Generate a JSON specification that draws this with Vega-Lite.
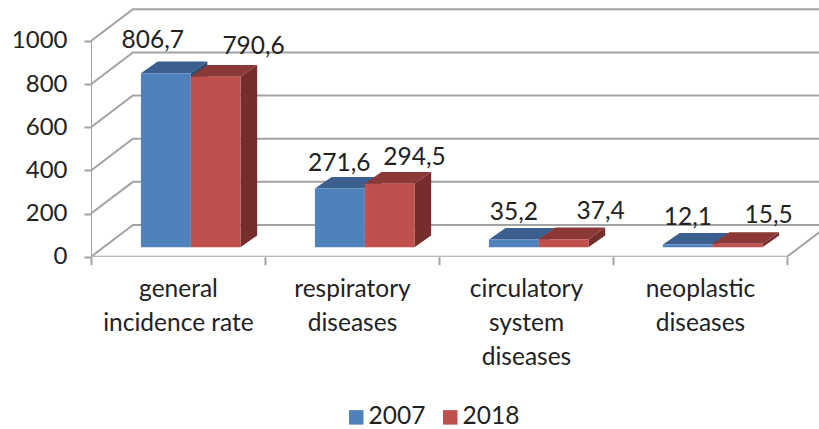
{
"$schema":"https://vega.github.io/schema/vega-lite/v6.json",
"width":728,"height":256.7,
"autosize":{"type":"none"},
"padding":{"left":91,"top":0,"right":0,"bottom":172.3},
"background":"white",
"view":{"stroke":null},
"config":{"text":{"font":"Lato"},"axis":{"labelFont":"Lato"},"legend":{"labelFont":"Lato"}},
"datasets":{
"frame":[
{"s":"g0","x":0,"y":0},{"s":"g0","x":0.241,"y":147},{"s":"g0","x":4.3,"y":147},
{"s":"g200","x":0,"y":200},{"s":"g200","x":0.241,"y":347},{"s":"g200","x":4.3,"y":347},
{"s":"g400","x":0,"y":400},{"s":"g400","x":0.241,"y":547},{"s":"g400","x":4.3,"y":547},
{"s":"g600","x":0,"y":600},{"s":"g600","x":0.241,"y":747},{"s":"g600","x":4.3,"y":747},
{"s":"g800","x":0,"y":800},{"s":"g800","x":0.241,"y":947},{"s":"g800","x":4.3,"y":947},
{"s":"g1000","x":0,"y":1000},{"s":"g1000","x":0.241,"y":1147},{"s":"g1000","x":4.3,"y":1147},
{"s":"left","x":0,"y":0},{"s":"left","x":0,"y":1000},
{"s":"floor","x":0,"y":0},{"s":"floor","x":4,"y":0},
{"s":"right","x":4,"y":0},{"s":"right","x":4.241,"y":147}
]},
"data":{"values":[
{"category":"general incidence rate","year":"2007","value":806.7,"label":"806,7"},
{"category":"general incidence rate","year":"2018","value":790.6,"label":"790,6"},
{"category":"respiratory diseases","year":"2007","value":271.6,"label":"271,6"},
{"category":"respiratory diseases","year":"2018","value":294.5,"label":"294,5"},
{"category":"circulatory system diseases","year":"2007","value":35.2,"label":"35,2"},
{"category":"circulatory system diseases","year":"2018","value":37.4,"label":"37,4"},
{"category":"neoplastic diseases","year":"2007","value":12.1,"label":"12,1"},
{"category":"neoplastic diseases","year":"2018","value":15.5,"label":"15,5"}
]},
"transform":[
{"calculate":"indexof(['general incidence rate','respiratory diseases','circulatory system diseases','neoplastic diseases'],datum.category)","as":"idx"},
{"calculate":"datum.idx+0.287+(datum.year=='2018'?0.286:0)","as":"x0"},
{"calculate":"datum.x0+0.286","as":"x1"},
{"calculate":"datum.value+44","as":"top"},
{"calculate":"44","as":"base"}
],
"layer":[
{"data":{"name":"frame"},
 "mark":{"type":"line","color":"#a3a3a3","strokeWidth":2,"clip":true},
 "encoding":{
  "x":{"field":"x","type":"quantitative","scale":{"domain":[0,4.184],"nice":false,"zero":false},"title":null,
   "axis":{"values":[0,0.5,1,1.5,2,2.5,3,3.5,4],"domain":false,"grid":false,"tickSize":8,"tickWidth":2,"tickColor":"#a3a3a3",
    "tickOpacity":{"condition":{"test":"datum.value % 1 > 0","value":0},"value":1},
    "labelExpr":"datum.value==0.5?['general','incidence rate']:datum.value==1.5?['respiratory','diseases']:datum.value==2.5?['circulatory','system','diseases']:datum.value==3.5?['neoplastic','diseases']:''",
    "labelFontSize":24.5,"labelLineHeight":34,"labelColor":"#222222","labelPadding":13,"labelOverlap":false,"labelBound":false,"labelFlush":false,"labelAngle":0,"labelBaseline":"top"}},
  "y":{"field":"y","type":"quantitative","scale":{"domain":[0,1190],"nice":false,"zero":false},"title":null,
   "axis":{"values":[0,200,400,600,800,1000],"domain":false,"grid":false,"tickSize":7,"tickWidth":2,"tickColor":"#a3a3a3","labelFontSize":24,"labelColor":"#222222","labelPadding":17,"labelOverlap":false,"labelBound":false,"format":"d"}},
  "detail":{"field":"s"}
 }},
{"transform":[{"filter":"datum.year=='2007'"},{"calculate":"[0,1,2,3]","as":"c"},{"flatten":["c"]},
  {"calculate":"datum.x0+[0,0.096,0.286,0.382][datum.c]","as":"px"},
  {"calculate":"datum.top+[0,54,54,54][datum.c]","as":"py"},
  {"calculate":"datum.top+[0,0,0,54][datum.c]","as":"py2"}],
 "mark":{"type":"area","color":"#3b5f8e"},
 "encoding":{"x":{"field":"px","type":"quantitative"},"y":{"field":"py","type":"quantitative"},"y2":{"field":"py2"},"detail":{"field":"category"}}},
{"transform":[{"filter":"datum.year=='2007'"},{"calculate":"[0,1]","as":"c"},{"flatten":["c"]},
  {"calculate":"datum.x1+0.096*datum.c","as":"px"},
  {"calculate":"datum.top+54*datum.c","as":"py"},
  {"calculate":"datum.base+54*datum.c","as":"py2"}],
 "mark":{"type":"area","color":"#2f4d73"},
 "encoding":{"x":{"field":"px","type":"quantitative"},"y":{"field":"py","type":"quantitative"},"y2":{"field":"py2"},"detail":{"field":"category"}}},
{"transform":[{"filter":"datum.year=='2007'"}],
 "mark":{"type":"rect"},
 "encoding":{"x":{"field":"x0","type":"quantitative"},"x2":{"field":"x1"},"y":{"field":"top","type":"quantitative"},"y2":{"field":"base"},
  "color":{"field":"year","type":"nominal","scale":{"domain":["2007","2018"],"range":["#4f81bd","#c0504d"]},
   "legend":{"title":null,"orient":"none","legendX":253,"legendY":405,"direction":"horizontal","symbolType":"square","symbolSize":210,"symbolStrokeWidth":0,"labelFontSize":24.5,"labelColor":"#222222","columnPadding":12,"labelOffset":0}}}},
{"transform":[{"filter":"datum.year=='2018'"},{"calculate":"[0,1,2,3]","as":"c"},{"flatten":["c"]},
  {"calculate":"datum.x0+[0,0.096,0.286,0.382][datum.c]","as":"px"},
  {"calculate":"datum.top+[0,54,54,54][datum.c]","as":"py"},
  {"calculate":"datum.top+[0,0,0,54][datum.c]","as":"py2"}],
 "mark":{"type":"area","color":"#8c3836"},
 "encoding":{"x":{"field":"px","type":"quantitative"},"y":{"field":"py","type":"quantitative"},"y2":{"field":"py2"},"detail":{"field":"category"}}},
{"transform":[{"filter":"datum.year=='2018'"},{"calculate":"[0,1]","as":"c"},{"flatten":["c"]},
  {"calculate":"datum.x1+0.096*datum.c","as":"px"},
  {"calculate":"datum.top+54*datum.c","as":"py"},
  {"calculate":"datum.base+54*datum.c","as":"py2"}],
 "mark":{"type":"area","color":"#772d2b"},
 "encoding":{"x":{"field":"px","type":"quantitative"},"y":{"field":"py","type":"quantitative"},"y2":{"field":"py2"},"detail":{"field":"category"}}},
{"transform":[{"filter":"datum.year=='2018'"}],
 "mark":{"type":"rect"},
 "encoding":{"x":{"field":"x0","type":"quantitative"},"x2":{"field":"x1"},"y":{"field":"top","type":"quantitative"},"y2":{"field":"base"},
  "color":{"field":"year","type":"nominal"}}},
{"transform":[
  {"calculate":"datum.year=='2007'?[-13,-0.5,0,0][datum.idx]:[38,25,37,31][datum.idx]","as":"ox"},
  {"calculate":"datum.year=='2007'?[32,25,27,27][datum.idx]:[30,26,27,28][datum.idx]","as":"oy"},
  {"calculate":"datum.x0+0.143+datum.ox/174","as":"lx"},
  {"calculate":"datum.top+datum.oy/0.2157","as":"ly"}],
 "mark":{"type":"text","fontSize":24.5,"color":"#222222","baseline":"middle","align":"center"},
 "encoding":{"x":{"field":"lx","type":"quantitative"},"y":{"field":"ly","type":"quantitative"},"text":{"field":"label"}}}
]
}
